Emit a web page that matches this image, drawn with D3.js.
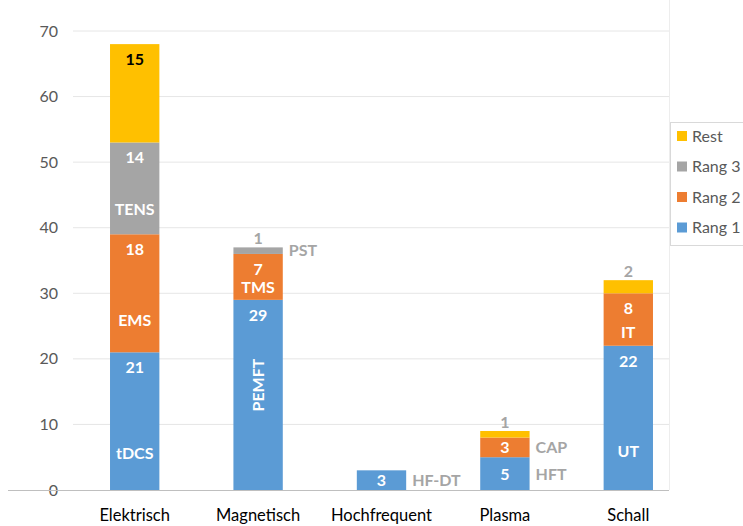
<!DOCTYPE html>
<html>
<head>
<meta charset="utf-8">
<script src="https://cdn.jsdelivr.net/npm/d3@7"></script>
<style>
  body { margin: 0; background: #fff; }
  text { font-family: Lato, "Open Sans", sans-serif; }
</style>
</head>
<body>
<div id="chart"></div>
<script>
// chart data
const categories = ["Elektrisch", "Magnetisch", "Hochfrequent", "Plasma", "Schall"]
const series = ["Rang 1", "Rang 2", "Rang 3", "Rest"]
const rang1 = [21, 29, 3, 5, 22]
const rang2 = [18, 7, 0, 3, 8]
const rang3 = [14, 1, 0, 0, 0]
const rest = [15, 0, 0, 1, 2]
const names1 = ["tDCS", "PEMFT", "HF-DT", "HFT", "UT"]
const names2 = ["EMS", "TMS", "", "CAP", "IT"]
const names3 = ["TENS", "PST", "", "", ""]
const yTicks = [0, 10, 20, 30, 40, 50, 60, 70]

const colors = { "Rang 1": "#5B9BD5", "Rang 2": "#ED7D31", "Rang 3": "#A5A5A5", "Rest": "#FFC000" }
const labelGray = "#A5A5A5"

const width = 743, height = 526
const svg = d3.select("#chart").append("svg")
    .attr("width", width)
    .attr("height", height)

const x = d3.scaleBand().domain(categories).range([73, 690]).paddingInner(0.6).paddingOuter(0.3)
const y = d3.scaleLinear().domain([0, 70]).range([490, 31])

// grid
svg.append("g").selectAll("line")
    .data(yTicks.filter(d => d > 0))
    .join("line")
    .attr("x1", 73).attr("x2", 669)
    .attr("y1", d => y(d)).attr("y2", d => y(d))
    .attr("stroke", "#E6E6E6").attr("stroke-width", 1)

// faint right border
svg.append("line")
    .attr("x1", 669.5).attr("x2", 669.5).attr("y1", 0).attr("y2", 490)
    .attr("stroke", "#EDEDED")

// y axis labels
const yAxis = svg.append("g").attr("transform", "translate(66,0)")
    .call(d3.axisLeft(y).tickValues(yTicks).tickSize(0).tickPadding(8))
yAxis.select(".domain").remove()
yAxis.selectAll("text").attr("font-size", 16).attr("fill", "#595959")
    .style("font-family", "Lato, 'Open Sans', sans-serif")

// stacked data
const rows = categories.map((c, i) => ({
    cat: c,
    "Rang 1": rang1[i], "Rang 2": rang2[i], "Rang 3": rang3[i], "Rest": rest[i],
    names: [names1[i], names2[i], names3[i], ""]
}))
const stacked = d3.stack().keys(series)(rows)

const bars = svg.append("g")
stacked.forEach((layer, si) => {
    bars.selectAll(null)
        .data(layer.filter(d => d[1] - d[0] > 0))
        .join("rect")
        .attr("x", d => x(d.data.cat))
        .attr("width", x.bandwidth())
        .attr("y", d => y(d[1]))
        .attr("height", d => y(d[0]) - y(d[1]))
        .attr("fill", colors[series[si]])
})

// axis line
svg.append("line")
    .attr("x1", 8).attr("x2", 669).attr("y1", 490.5).attr("y2", 490.5)
    .attr("stroke", "#BFBFBF")

// labels
const lab = svg.append("g").attr("font-weight", "bold").attr("font-size", 16)
stacked.forEach((layer, si) => {
    layer.forEach(d => {
        const v = d[1] - d[0]
        if (v <= 0) return
        const cx = x(d.data.cat) + x.bandwidth() / 2
        const right = x(d.data.cat) + x.bandwidth() + 6
        const name = d.data.names[si]
        if (v <= 2) {
            // small segment: value above bar
            lab.append("text").attr("x", cx).attr("y", y(d[1]) - 3)
                .attr("text-anchor", "middle").attr("fill", labelGray).text(v)
            if (name) lab.append("text").attr("x", right).attr("y", (y(d[0]) + y(d[1])) / 2 + 5)
                .attr("fill", labelGray).text(name)
        } else if (v <= 5) {
            lab.append("text").attr("x", cx).attr("y", (y(d[0]) + y(d[1])) / 2 + 6)
                .attr("text-anchor", "middle").attr("fill", "#fff").text(v)
            if (name) lab.append("text").attr("x", right).attr("y", (y(d[0]) + y(d[1])) / 2 + 6)
                .attr("fill", labelGray).text(name)
        } else {
            lab.append("text").attr("x", cx).attr("y", y(d[1]) + 21)
                .attr("text-anchor", "middle")
                .attr("fill", series[si] === "Rest" ? "#000" : "#fff").text(v)
            if (name === "PEMFT") {
                lab.append("text")
                    .attr("transform", `translate(${cx + 6},${y((d[0] + d[1]) / 2 + 1.5)}) rotate(-90)`)
                    .attr("text-anchor", "middle").attr("fill", "#fff").text(name)
            } else if (name) {
                lab.append("text").attr("x", cx).attr("y", y(d[0] + 0.27 * v) + 6)
                    .attr("text-anchor", "middle").attr("fill", "#fff").text(name)
            }
        }
    })
})

// category labels
svg.append("g").selectAll("text")
    .data(categories)
    .join("text")
    .attr("x", d => x(d) + x.bandwidth() / 2)
    .attr("y", 521)
    .attr("text-anchor", "middle")
    .attr("font-size", 16.5)
    .attr("fill", "#000")
    .text(d => d)

// legend
const legend = svg.append("g").attr("transform", "translate(670,122)")
legend.append("rect").attr("x", 0.5).attr("y", 0.5).attr("width", 80).attr("height", 123)
    .attr("fill", "#fff").attr("stroke", "#D9D9D9")
series.slice().reverse().forEach((s, i) => {
    const g = legend.append("g").attr("transform", `translate(7,${14 + i * 30.5})`)
    g.append("rect").attr("x", 0).attr("y", -5).attr("width", 10).attr("height", 10).attr("fill", colors[s])
    g.append("text").attr("x", 15).attr("y", 5.5).attr("font-size", 16).attr("fill", "#595959").text(s)
})
</script>
</body>
</html>
